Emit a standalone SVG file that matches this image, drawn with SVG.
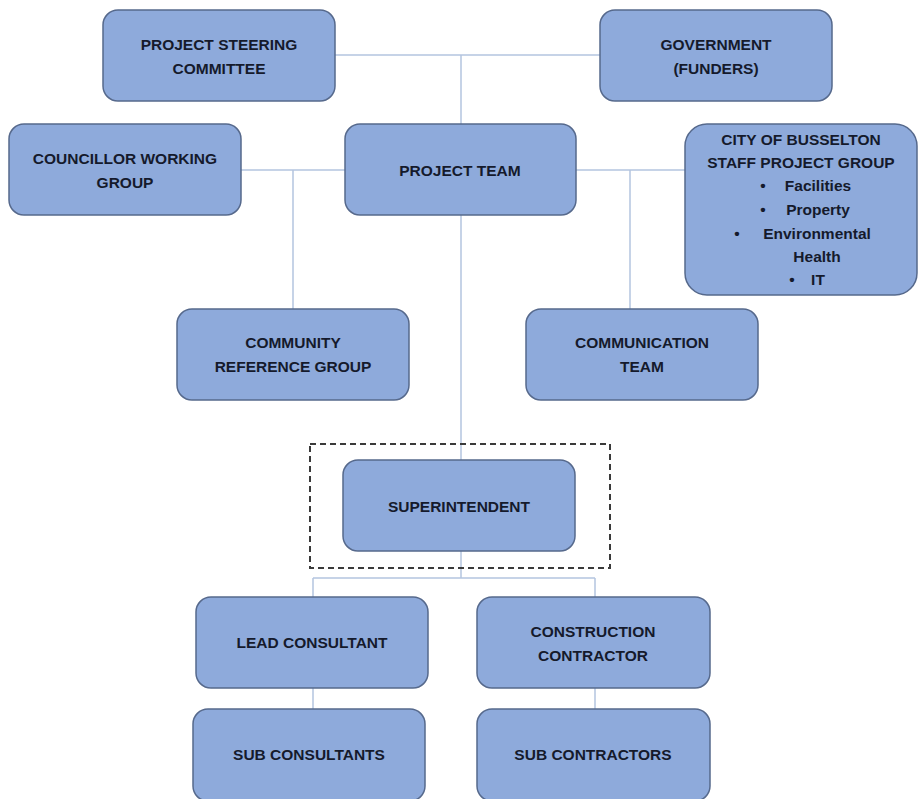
<svg xmlns="http://www.w3.org/2000/svg" width="918" height="799" viewBox="0 0 918 799">
<style>
.box{fill:#8eaadb;stroke:#56698c;stroke-width:1.5}
.t{font-family:"Liberation Sans",Arial,sans-serif;font-weight:bold;font-size:15.5px;fill:#151a2c;text-anchor:middle}
.c{stroke:#b4c5e0;stroke-width:1.5;fill:none}
</style>
<rect width="918" height="799" fill="#ffffff"/>
<g id="connectors">
<path class="c" d="M335 55H600M461 55V124M241 170H345M576 170H685M293 170V309M630 170V309M461 215V460M461 551V578M313 578H595M313 578V597M595 578V597M313 688V709M595 688V709"/>
</g>
<g id="steering"><rect class="box" x="103" y="10" width="232" height="91" rx="15"/><text class="t" x="219" y="50">PROJECT STEERING</text><text class="t" x="219" y="74">COMMITTEE</text></g>
<g id="government"><rect class="box" x="600" y="10" width="232" height="91" rx="15"/><text class="t" x="716" y="50">GOVERNMENT</text><text class="t" x="716" y="74">(FUNDERS)</text></g>
<g id="councillor"><rect class="box" x="9" y="124" width="232" height="91" rx="15"/><text class="t" x="125" y="164">COUNCILLOR WORKING</text><text class="t" x="125" y="188">GROUP</text></g>
<g id="projectteam"><rect class="box" x="345" y="124" width="231" height="91" rx="15"/><text class="t" x="460" y="176">PROJECT TEAM</text></g>
<g id="city"><rect class="box" x="685" y="124" width="232" height="171" rx="22"/>
<text class="t" x="801" y="145">CITY OF BUSSELTON</text>
<text class="t" x="801" y="168">STAFF PROJECT GROUP</text>
<text class="t" x="763" y="191">•</text><text class="t" x="818" y="191">Facilities</text>
<text class="t" x="763" y="215">•</text><text class="t" x="818" y="215">Property</text>
<text class="t" x="737" y="239">•</text><text class="t" x="817" y="239">Environmental</text>
<text class="t" x="817" y="262">Health</text>
<text class="t" x="792" y="285">•</text><text class="t" x="818" y="285">IT</text>
</g>
<g id="community"><rect class="box" x="177" y="309" width="232" height="91" rx="15"/><text class="t" x="293" y="348">COMMUNITY</text><text class="t" x="293" y="372">REFERENCE GROUP</text></g>
<g id="communication"><rect class="box" x="526" y="309" width="232" height="91" rx="15"/><text class="t" x="642" y="348">COMMUNICATION</text><text class="t" x="642" y="372">TEAM</text></g>
<rect x="310" y="444" width="300" height="124" fill="none" stroke="#3a3a3a" stroke-width="2" stroke-dasharray="6,4"/>
<g id="superintendent"><rect class="box" x="343" y="460" width="232" height="91" rx="15"/><text class="t" x="459" y="512">SUPERINTENDENT</text></g>
<g id="lead"><rect class="box" x="196" y="597" width="232" height="91" rx="15"/><text class="t" x="312" y="648">LEAD CONSULTANT</text></g>
<g id="construction"><rect class="box" x="477" y="597" width="233" height="91" rx="15"/><text class="t" x="593" y="637">CONSTRUCTION</text><text class="t" x="593" y="661">CONTRACTOR</text></g>
<g id="subconsultants"><rect class="box" x="193" y="709" width="232" height="92" rx="15"/><text class="t" x="309" y="760">SUB CONSULTANTS</text></g>
<g id="subcontractors"><rect class="box" x="477" y="709" width="233" height="92" rx="15"/><text class="t" x="593" y="760">SUB CONTRACTORS</text></g>
</svg>
